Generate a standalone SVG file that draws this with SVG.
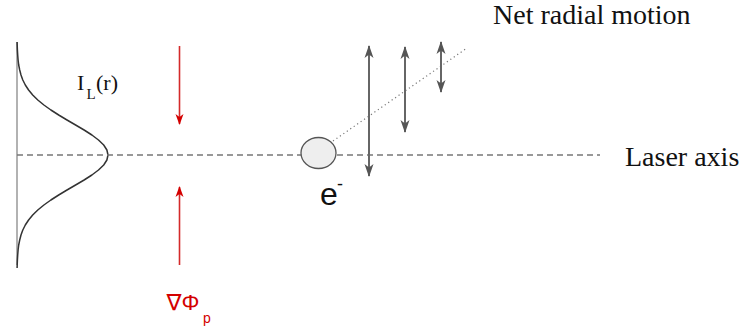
<svg xmlns="http://www.w3.org/2000/svg" width="742" height="334" viewBox="0 0 742 334">
<defs>
<style>
.serif{font-family:"Liberation Serif","Times New Roman",serif;fill:#111}
.sans{font-family:"Liberation Sans","DejaVu Sans",Arial,sans-serif}
.red{fill:#d40000}
.redline{stroke:#d42a2a;stroke-width:1.6;fill:none}
.grayline{stroke:#666;stroke-width:2;fill:none}
</style>
<marker id="redHead" markerUnits="userSpaceOnUse" markerWidth="12" markerHeight="12" viewBox="0 0 12 12" refX="10" refY="6" orient="auto">
<path d="M0,2 L11,6 L0,10 L3,6 Z" fill="#d40000"/>
</marker>
<marker id="grayHead" markerUnits="userSpaceOnUse" markerWidth="14" markerHeight="14" viewBox="0 0 14 14" refX="12" refY="7" orient="auto-start-reverse">
<path d="M0,2.5 L13,7 L0,11.5 L3.5,7 Z" fill="#555"/>
</marker>
</defs>
<rect width="742" height="334" fill="#fff"/>

<g id="profile">
<line x1="17" y1="42" x2="17" y2="265" stroke="#999" stroke-width="1.5"/>
<polyline fill="none" stroke="#333" stroke-width="1.5" stroke-linejoin="round" points="17.1,42 17.2,45 17.4,50 17.7,55 18.1,60 18.7,65 19.7,70 21,75 22.8,80 25.3,85 28.6,90 32.7,95 37.8,100 43.9,105 50.9,110 58.7,115 67,120 75.6,125 84.1,130 91.9,135 98.5,140 103.7,145 106.9,150 108,155 106.9,160 103.7,165 98.5,170 91.9,175 84.1,180 75.6,185 67,190 58.7,195 50.9,200 43.9,205 37.8,210 32.7,215 28.6,220 25.3,225 22.8,230 21,235 19.7,240 18.7,245 18.1,250 17.7,255 17.4,260 17.2,265 17.1,268"/>
<text class="serif" x="77" y="90" font-size="22">I</text>
<text class="serif" x="86.5" y="99" font-size="15">L</text>
<text class="serif" x="96" y="90" font-size="22">(r)</text>
</g>

<g id="connectors">
<line x1="17" y1="155" x2="600" y2="155" stroke="#777" stroke-width="1.3" stroke-dasharray="6 4"/>
<line class="redline" x1="179.5" y1="46" x2="179.5" y2="124" marker-end="url(#redHead)"/>
<line class="redline" x1="179.5" y1="265" x2="179.5" y2="187" marker-end="url(#redHead)"/>
<line x1="333" y1="141" x2="467" y2="48" stroke="#777" stroke-width="1.2" stroke-dasharray="1.2 3"/>
<line class="grayline" x1="369" y1="46" x2="369" y2="176" marker-start="url(#grayHead)" marker-end="url(#grayHead)"/>
<line class="grayline" x1="405" y1="47" x2="405" y2="132" marker-start="url(#grayHead)" marker-end="url(#grayHead)"/>
<line class="grayline" x1="441" y1="42" x2="441" y2="92" marker-start="url(#grayHead)" marker-end="url(#grayHead)"/>
</g>

<g id="gradient-label">
<text class="sans red" x="166.5" y="310" font-size="22.5">∇Φ</text>
<text class="sans red" x="203" y="323" font-size="14">p</text>
</g>

<g id="electron">
<ellipse cx="318.5" cy="153" rx="17.5" ry="15.5" fill="#eeeeee" stroke="#555" stroke-width="1.3"/>
<text class="sans" x="320" y="205" font-size="32" fill="#111">e</text>
<text class="sans" x="337" y="190" font-size="18" fill="#111">-</text>
</g>

<g id="net-radial-motion">
<text class="serif" x="493" y="24" font-size="28">Net radial motion</text>
</g>

<g id="laser-axis">
<text class="serif" x="625" y="166" font-size="28">Laser axis</text>
</g>
</svg>
